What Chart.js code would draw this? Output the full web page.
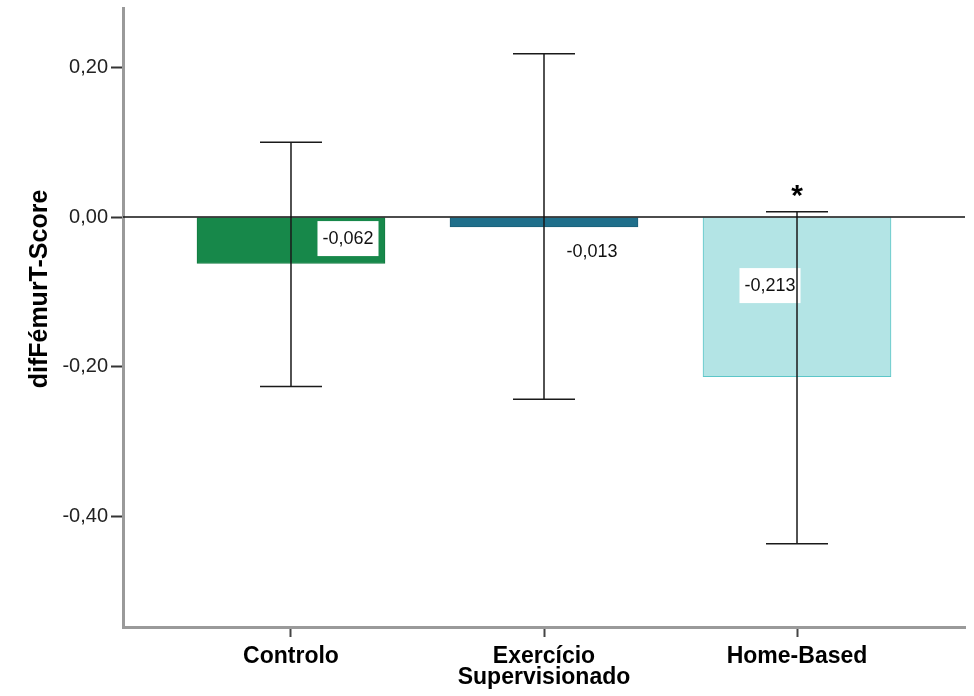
<!DOCTYPE html>
<html>
<head>
<meta charset="utf-8">
<script src="https://cdn.jsdelivr.net/npm/chart.js@4.4.1/dist/chart.umd.min.js"></script>
<style>
  html, body { margin: 0; padding: 0; background: #fff; }
  canvas { display: block; }
</style>
</head>
<body>
<canvas id="chart" width="974" height="696"></canvas>
<script>
const categories = ['Controlo', ['Exercício', 'Supervisionado'], 'Home-Based'];
const means = [-0.062, -0.013, -0.213];
const ciUpper = [0.100, 0.218, 0.007];
const ciLower = [-0.226, -0.243, -0.436];
const significant = [false, false, true];
const yTicks = [0.2, 0, -0.2, -0.4];
const yTitle = 'difFémurT-Score';

const barFill = ['#17884a', '#1f6f8b', '#b3e4e5'];
const barEdge = ['#137a40', '#1b5f78', '#5cc6c8'];

// where SPSS put the value boxes, relative to bar centre / zero line
const labelShift = [
  { dx: 57, dy: 21 },
  { dx: 48, dy: 34 },
  { dx: -27, dy: 68 }
];

const comma = (v, d) => v.toFixed(d).replace('.', ',');

const overlayPlugin = {
  id: 'overlay',
  afterDatasetsDraw(chart) {
    const { ctx, scales: { x, y }, chartArea } = chart;
    const zero = y.getPixelForValue(0);
    ctx.save();

    // value boxes
    ctx.font = '18px "Liberation Sans", Arial, sans-serif';
    ctx.textAlign = 'center';
    ctx.textBaseline = 'middle';
    means.forEach((m, i) => {
      const cx = x.getPixelForValue(i + 1) + labelShift[i].dx;
      const cy = zero + labelShift[i].dy;
      const txt = comma(m, 3);
      const w = ctx.measureText(txt).width + 10;
      ctx.fillStyle = '#fff';
      ctx.fillRect(cx - w / 2, cy - 17, w, 35);
      ctx.fillStyle = '#111';
      ctx.fillText(txt, cx, cy + 1);
    });

    // error bars
    ctx.strokeStyle = '#1a1a1a';
    ctx.lineWidth = 1.5;
    means.forEach((m, i) => {
      const cx = x.getPixelForValue(i + 1);
      const top = y.getPixelForValue(ciUpper[i]);
      const bot = y.getPixelForValue(ciLower[i]);
      ctx.beginPath();
      ctx.moveTo(cx, top);
      ctx.lineTo(cx, bot);
      ctx.moveTo(cx - 31, top);
      ctx.lineTo(cx + 31, top);
      ctx.moveTo(cx - 31, bot);
      ctx.lineTo(cx + 31, bot);
      ctx.stroke();
    });

    // zero reference line
    ctx.strokeStyle = '#111';
    ctx.lineWidth = 1.5;
    ctx.beginPath();
    ctx.moveTo(chartArea.left, zero);
    ctx.lineTo(chartArea.right, zero);
    ctx.stroke();

    // significance marks
    ctx.fillStyle = '#000';
    ctx.font = 'bold 30px "Liberation Sans", Arial, sans-serif';
    significant.forEach((s, i) => {
      if (!s) return;
      ctx.fillText('*', x.getPixelForValue(i + 1), y.getPixelForValue(ciUpper[i]) - 15);
    });

    // rotated axis title
    ctx.translate(40, 289);
    ctx.rotate(-Math.PI / 2);
    ctx.font = 'bold 25px "Liberation Sans", Arial, sans-serif';
    ctx.fillText(yTitle, 0, 0);
    ctx.restore();
  }
};

new Chart(document.getElementById('chart'), {
  type: 'bar',
  data: {
    datasets: [{
      data: means.map((m, i) => ({ x: i + 1, y: m })),
      backgroundColor: barFill,
      borderColor: barEdge,
      borderWidth: 1,
      barThickness: 188
    }]
  },
  options: {
    responsive: false,
    animation: false,
    devicePixelRatio: 1,
    layout: { padding: { top: 8, right: 9, left: 0, bottom: 0 } },
    plugins: {
      legend: { display: false },
      tooltip: { enabled: false }
    },
    scales: {
      x: {
        type: 'linear',
        min: 0.336,
        max: 3.664,
        offset: false,
        afterBuildTicks(scale) {
          scale.ticks = categories.map((c, i) => ({ value: i + 1 }));
        },
        afterFit(scale) {
          scale.height = 69;
          scale.paddingLeft = 0;
          scale.paddingRight = 0;
        },
        grid: {
          offset: false,
          drawOnChartArea: false,
          drawTicks: true,
          tickLength: 10,
          tickWidth: 2,
          tickColor: '#444'
        },
        border: { display: true, color: '#9a9a9a', width: 3 },
        ticks: {
          padding: 9,
          color: '#000',
          maxRotation: 0,
          autoSkip: false,
          font: { family: '"Liberation Sans", Arial, sans-serif', size: 23, weight: 'bold', lineHeight: 0.92 },
          callback: (v) => categories[v - 1]
        }
      },
      y: {
        min: -0.547,
        max: 0.279,
        afterBuildTicks(scale) {
          scale.ticks = yTicks.map((v) => ({ value: v }));
        },
        afterFit(scale) {
          scale.width = 123;
          scale.paddingTop = 0;
          scale.paddingBottom = 0;
        },
        grid: {
          drawOnChartArea: false,
          drawTicks: true,
          tickLength: 12,
          tickWidth: 2,
          tickColor: '#333'
        },
        border: { display: true, color: '#9a9a9a', width: 3 },
        ticks: {
          padding: 3,
          color: '#222',
          font: { family: '"Liberation Sans", Arial, sans-serif', size: 20 },
          callback: (v) => comma(v, 2)
        }
      }
    }
  },
  plugins: [overlayPlugin]
});
</script>
</body>
</html>
